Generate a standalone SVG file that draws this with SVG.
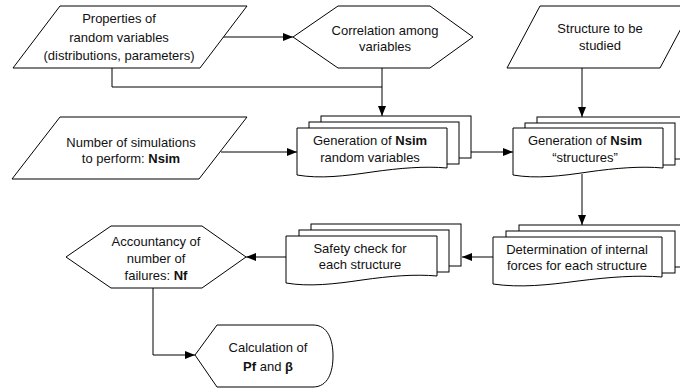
<svg xmlns="http://www.w3.org/2000/svg" width="680" height="389" viewBox="0 0 680 389">
<style>
.s{fill:#fff;stroke:#000;stroke-width:1}
.c{fill:none;stroke:#000;stroke-width:1}
text{font-family:"Liberation Sans",Arial,sans-serif;font-size:13px;fill:#111;text-anchor:middle}
.b{font-weight:bold}
</style>
<defs>
<marker id="ah" markerWidth="10" markerHeight="8" refX="10" refY="4" orient="auto" markerUnits="userSpaceOnUse">
<path d="M0,0 L10,4 L0,8 Z" fill="#000"/>
</marker>
</defs>
<rect width="680" height="389" fill="#fff"/>
<g id="connectors">
<path class="c" d="M222,37 H293" marker-end="url(#ah)"/>
<path class="c" d="M112,68 V87 H382"/>
<path class="c" d="M382,68 V116" marker-end="url(#ah)"/>
<path class="c" d="M582,68 V117" marker-end="url(#ah)"/>
<path class="c" d="M221,152 H297" marker-end="url(#ah)"/>
<path class="c" d="M471,152 H513" marker-end="url(#ah)"/>
<path class="c" d="M582,174 V225" marker-end="url(#ah)"/>
<path class="c" d="M493,257 H462" marker-end="url(#ah)"/>
<path class="c" d="M286,257 H246" marker-end="url(#ah)"/>
<path class="c" d="M153,288 V355 H195" marker-end="url(#ah)"/>
</g>
<g id="properties">
<polygon class="s" points="60,6 247,6 200,68 13,68"/>
<text x="119" y="22.5">Properties of</text>
<text x="119" y="41.5">random variables</text>
<text x="119" y="60">(distributions, parameters)</text>
</g>
<g id="correlation">
<polygon class="s" points="293,37 338,6 430,6 473,37 430,68 338,68"/>
<text x="385" y="34.5">Correlation among</text>
<text x="385" y="51">variables</text>
</g>
<g id="structure">
<polygon class="s" points="540,6 693,6 660,68 507,68"/>
<text x="600" y="32.5">Structure to be</text>
<text x="600" y="49.5">studied</text>
</g>
<g id="nsim">
<polygon class="s" points="60,117 247,117 199,179 12,179"/>
<text x="131" y="146.5">Number of simulations</text>
<text x="131" y="162.5">to perform: <tspan class="b">Nsim</tspan></text>
</g>
<g id="genvars">
<rect class="s" x="321" y="116" width="150" height="42"/>
<rect class="s" x="309" y="122" width="150" height="42"/>
<path class="s" d="M297,128 H447 V168 C425,166 400,168 372,172 C345,176 320,179 297,175 Z"/>
<text x="370" y="145">Generation of <tspan class="b">Nsim</tspan></text>
<text x="370" y="162">random variables</text>
</g>
<g id="genstruct">
<rect class="s" x="537" y="117" width="150" height="42"/>
<rect class="s" x="525" y="123" width="150" height="42"/>
<path class="s" d="M513,128 H663 V168 C641,166 616,168 588,172 C561,176 536,179 513,175 Z"/>
<text x="585" y="145">Generation of <tspan class="b">Nsim</tspan></text>
<text x="585" y="162">“structures”</text>
</g>
<g id="forces">
<rect class="s" x="519" y="225" width="169" height="42"/>
<rect class="s" x="506" y="231" width="169" height="42"/>
<path class="s" d="M493,237 H662 V277 C637,275 610,277 578,281 C548,285 520,288 493,284 Z"/>
<text x="577" y="253.5">Determination of internal</text>
<text x="577" y="269.5">forces for each structure</text>
</g>
<g id="safety">
<rect class="s" x="311" y="224" width="150" height="42"/>
<rect class="s" x="299" y="230" width="150" height="42"/>
<path class="s" d="M286,236 H437 V276 C415,274 390,276 362,280 C335,284 309,287 286,283 Z"/>
<text x="360" y="252.5">Safety check for</text>
<text x="360" y="268.5">each structure</text>
</g>
<g id="accountancy">
<polygon class="s" points="66,257 111,226 202,226 246,257 202,288 111,288"/>
<text x="156" y="245.5">Accountancy of</text>
<text x="156" y="262.5">number of</text>
<text x="156" y="279.5">failures: <tspan class="b">Nf</tspan></text>
</g>
<g id="calculation">
<path class="s" d="M195,355 L217,325 H313 C328,325 333,340 333,356 C333,372 328,387 313,387 H217 Z"/>
<text x="268" y="351.5">Calculation of</text>
<text x="268" y="370.5"><tspan class="b">Pf</tspan> and <tspan class="b">β</tspan></text>
</g>
</svg>
